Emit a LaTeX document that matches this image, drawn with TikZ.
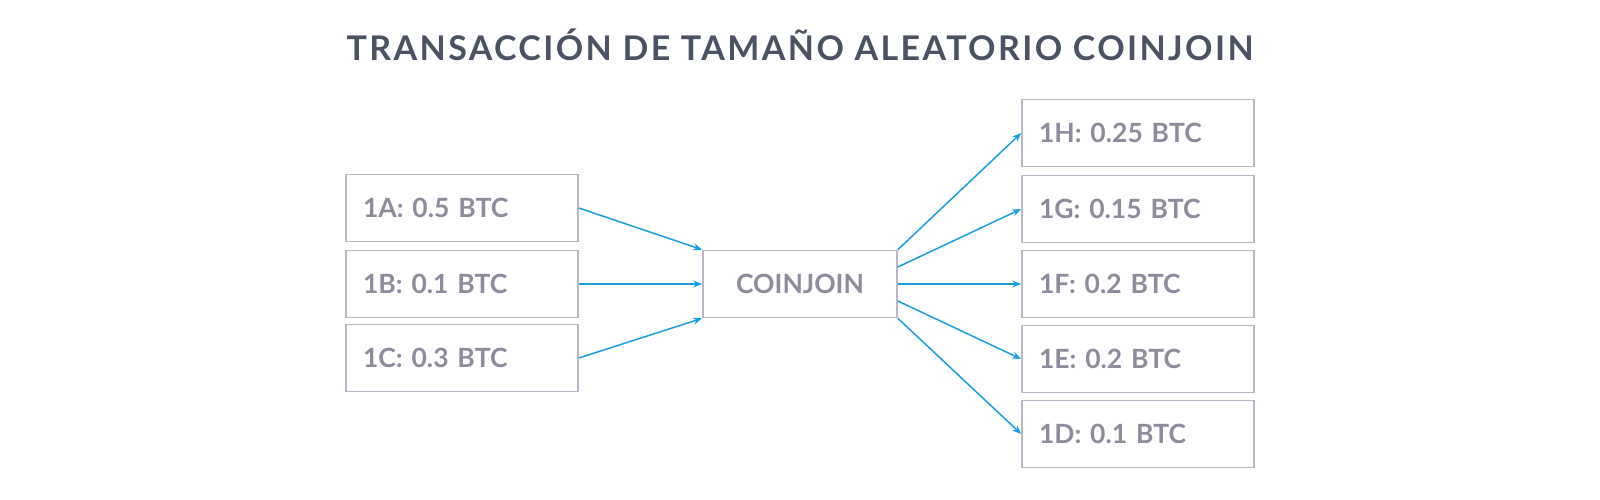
\documentclass[tikz,border=0pt]{standalone}
\usepackage{fontspec}
\setmainfont{Lato}
\newfontfamily\titlefont[LetterSpace=7]{Lato}
\usetikzlibrary{arrows.meta}
\definecolor{titlegray}{HTML}{4A5263}
\definecolor{labelgray}{HTML}{8E8C9C}
\definecolor{boxgray}{HTML}{B9B7C6}
\definecolor{flowblue}{HTML}{1A9DE1}
\begin{document}
\begin{tikzpicture}[x=1pt, y=-1pt, font=\fontsize{26.5}{30}\selectfont\bfseries\color{labelgray},
  box/.style={draw=boxgray, line width=1.6pt, minimum height=67pt, inner xsep=17pt, text width=198pt, align=left},
  mixer/.style={draw=boxgray, line width=1.6pt, minimum height=67pt, minimum width=194pt},
  flow/.style={draw=flowblue, line width=1.5pt, -{Stealth[length=9pt,width=7pt]}}]
\useasboundingbox (0,0) rectangle (1600,499);

\node (title) at (800,45) [font=\titlefont\fontsize{34}{38}\selectfont\bfseries, text=titlegray] {TRANSACCIÓN DE TAMAÑO ALEATORIO COINJOIN};

\node (a) at (462,208) [box] {1A: 0.5 BTC};
\node (b) at (462,284) [box] {1B: 0.1 BTC};
\node (c) at (462,358) [box] {1C: 0.3 BTC};
\node (cj) at (800,284) [mixer] {COINJOIN};
\node (h) at (1138,133) [box] {1H: 0.25 BTC};
\node (g) at (1138,209) [box] {1G: 0.15 BTC};
\node (f) at (1138,284) [box] {1F: 0.2 BTC};
\node (e) at (1138,359) [box] {1E: 0.2 BTC};
\node (d) at (1138,434) [box] {1D: 0.1 BTC};

\draw[flow] (a.east) -- (cj.north west);
\draw[flow] (b.east) -- (cj.west);
\draw[flow] (c.east) -- (cj.south west);
\draw[flow] (cj.north east) -- (h.west);
\draw[flow] ([yshift=17pt]cj.east) -- (g.west);
\draw[flow] (cj.east) -- (f.west);
\draw[flow] ([yshift=-17pt]cj.east) -- (e.west);
\draw[flow] (cj.south east) -- (d.west);
\end{tikzpicture}
\end{document}
